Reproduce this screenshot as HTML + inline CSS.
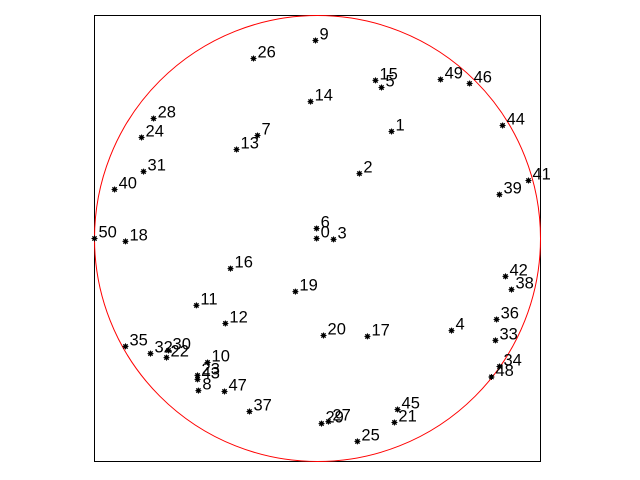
<!DOCTYPE html>
<html><head><meta charset="utf-8"><style>body{margin:0;background:#fff}svg{display:block}</style></head>
<body>
<svg id="c" width="640" height="480" xmlns="http://www.w3.org/2000/svg">
<rect x="94.5" y="15.5" width="446" height="446" fill="#fff" stroke="#000" stroke-width="1"/>
<g id="g"></g>
</svg>
<script>
// point coordinates in data units (circle radius 1, centered at 0,0)
const labels = [];
for (let i = 0; i <= 50; i++) labels.push(String(i));
const xs = [-0.004,0.332,0.188,0.072,0.601,0.287,-0.004,-0.269,-0.534,-0.009,-0.493,-0.543,-0.413,-0.363,-0.031,0.260,-0.390,0.224,-0.861,-0.099,0.027,0.345,-0.677,-0.538,-0.789,0.179,-0.287,0.049,-0.735,0.018,-0.668,-0.780,-0.749,0.798,0.816,-0.861,0.803,-0.305,0.870,0.816,-0.910,0.946,0.843,-0.538,0.830,0.359,0.682,-0.417,0.780,0.552,-1.0];
const ys = [0.0,0.480,0.291,-0.004,-0.413,0.677,0.045,0.462,-0.682,0.888,-0.556,-0.300,-0.381,0.399,0.614,0.709,-0.135,-0.439,-0.013,-0.238,-0.435,-0.825,-0.534,-0.614,0.453,-0.910,0.807,-0.821,0.538,-0.830,-0.502,0.300,-0.516,-0.457,-0.574,-0.484,-0.363,-0.776,-0.229,0.197,0.220,0.260,-0.170,-0.632,0.507,-0.767,0.695,-0.686,-0.621,0.713,0.0];
const cx0 = 317.5, cy0 = 238.5, R = 223;
const sx = v => cx0 + v * R, sy = v => cy0 - v * R;
const NS = 'http://www.w3.org/2000/svg';
const g = document.getElementById('g');
const circ = document.createElementNS(NS, 'circle');
circ.setAttribute('cx', sx(0)); circ.setAttribute('cy', sy(0)); circ.setAttribute('r', R);
circ.setAttribute('fill', 'none'); circ.setAttribute('stroke', '#f00'); circ.setAttribute('stroke-width', '1');


g.appendChild(circ);
for (let i = 0; i < xs.length; i++) {
  const x = sx(xs[i]), y = sy(ys[i]);
  const m = document.createElementNS(NS, 'g');
  
  
  m.innerHTML = `<circle cx="${x}" cy="${y}" r="2.2" fill="#000"/><path d="M${x-3} ${y}H${x+3}M${x} ${y-3}V${y+3}M${x-2.2} ${y-2.2}L${x+2.2} ${y+2.2}M${x-2.2} ${y+2.2}L${x+2.2} ${y-2.2}" stroke="#000" stroke-width="1"/>`;
  g.appendChild(m);
  const t = document.createElementNS(NS, 'text');
  t.setAttribute('x', x + 4); t.setAttribute('y', y - 1);
  t.setAttribute('font-family', 'Liberation Sans, Arial, sans-serif');
  t.setAttribute('font-size', '16.5');
  t.setAttribute('fill', '#000');
  
  
  t.textContent = labels[i];
  g.appendChild(t);
}
</script>
</body></html>
